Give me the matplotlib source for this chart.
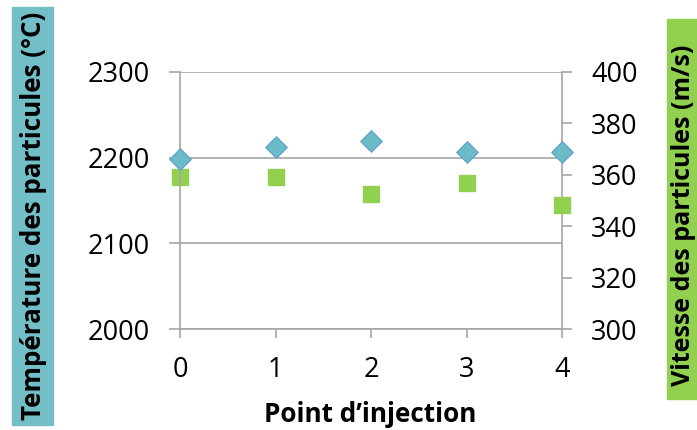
import matplotlib
matplotlib.use("Agg")
import matplotlib.pyplot as plt
from matplotlib.patches import Rectangle

# Data
points = [0, 1, 2, 3, 4]
temperature = [2198, 2212, 2219, 2207, 2207]   # °C, left axis
velocity = [359.3, 359.3, 352.4, 357.0, 348.1]  # m/s, right axis
left_ticks = [2000, 2100, 2200, 2300]
right_ticks = [300, 320, 340, 360, 380, 400]

plt.rcParams['font.family'] = ['Open Sans', 'DejaVu Sans']

W, H = 697, 430
fig = plt.figure(figsize=(W / 100, H / 100), dpi=100)
ax = fig.add_axes([180 / W, 1 - 329 / H, (562 - 180) / W, (329 - 72) / H])
ax2 = ax.twinx()

grey = '#A6A6A6'
ax.set_xlim(0, 4)
ax.set_ylim(2000, 2300)
ax.set_yticks(left_ticks)
ax.set_xticks(points)
ax.grid(axis='y', color=grey, linewidth=1.2)
ax.set_axisbelow(True)
ax2.set_ylim(300, 400)
ax2.set_yticks(right_ticks)

for a in (ax, ax2):
    for s in a.spines.values():
        s.set_visible(False)
ax.spines['left'].set_visible(True)
ax.spines['left'].set_color(grey)
ax.spines['left'].set_linewidth(1.2)
ax2.spines['right'].set_visible(True)
ax2.spines['right'].set_color(grey)
ax2.spines['right'].set_linewidth(1.2)
ax.spines['bottom'].set_visible(True)
ax.spines['bottom'].set_color(grey)
ax.spines['bottom'].set_linewidth(1.2)

ax.tick_params(axis='y', length=8, width=1.2, color=grey, labelsize=19.5, pad=14)
ax.tick_params(axis='x', length=6.5, width=1.2, color=grey, labelsize=19.5, pad=13)
ax2.tick_params(axis='y', length=7, width=1.2, color=grey, labelsize=19.5, pad=14)

ax2.scatter(points, velocity, marker='s', s=120, color='#92D050',
            edgecolors='#92D050', zorder=3, clip_on=False)
ax.scatter(points, temperature, marker='D', s=120, color='#6BBCC6',
           edgecolors='#5B9BD5', linewidths=0.8, zorder=4, clip_on=False)
ax2.set_zorder(ax.get_zorder() - 1)
ax.patch.set_visible(False)

fig.text(370 / W, 1 - 421.5 / H, "Point d’injection", ha='center', va='baseline',
         fontsize=18.8, fontweight='bold')

# Axis title boxes
fig.patches.append(Rectangle((12 / W, 1 - 425 / H), 41 / W, 418 / H,
                             transform=fig.transFigure, color='#73BFC7', zorder=0))
fig.text(34 / W, 1 - 215.5 / H, "Température des particules (°C)", rotation=90,
         ha='center', va='center', fontsize=18.7, fontweight='bold')
fig.patches.append(Rectangle((667 / W, 1 - 399 / H), 40 / W, 380 / H,
                             transform=fig.transFigure, color='#92D050', zorder=0))
fig.text(684 / W, 1 - 215.5 / H, "Vitesse des particules (m/s)", rotation=90,
         ha='center', va='center', fontsize=18, fontweight='bold')

fig.savefig('out.png', dpi=100)
